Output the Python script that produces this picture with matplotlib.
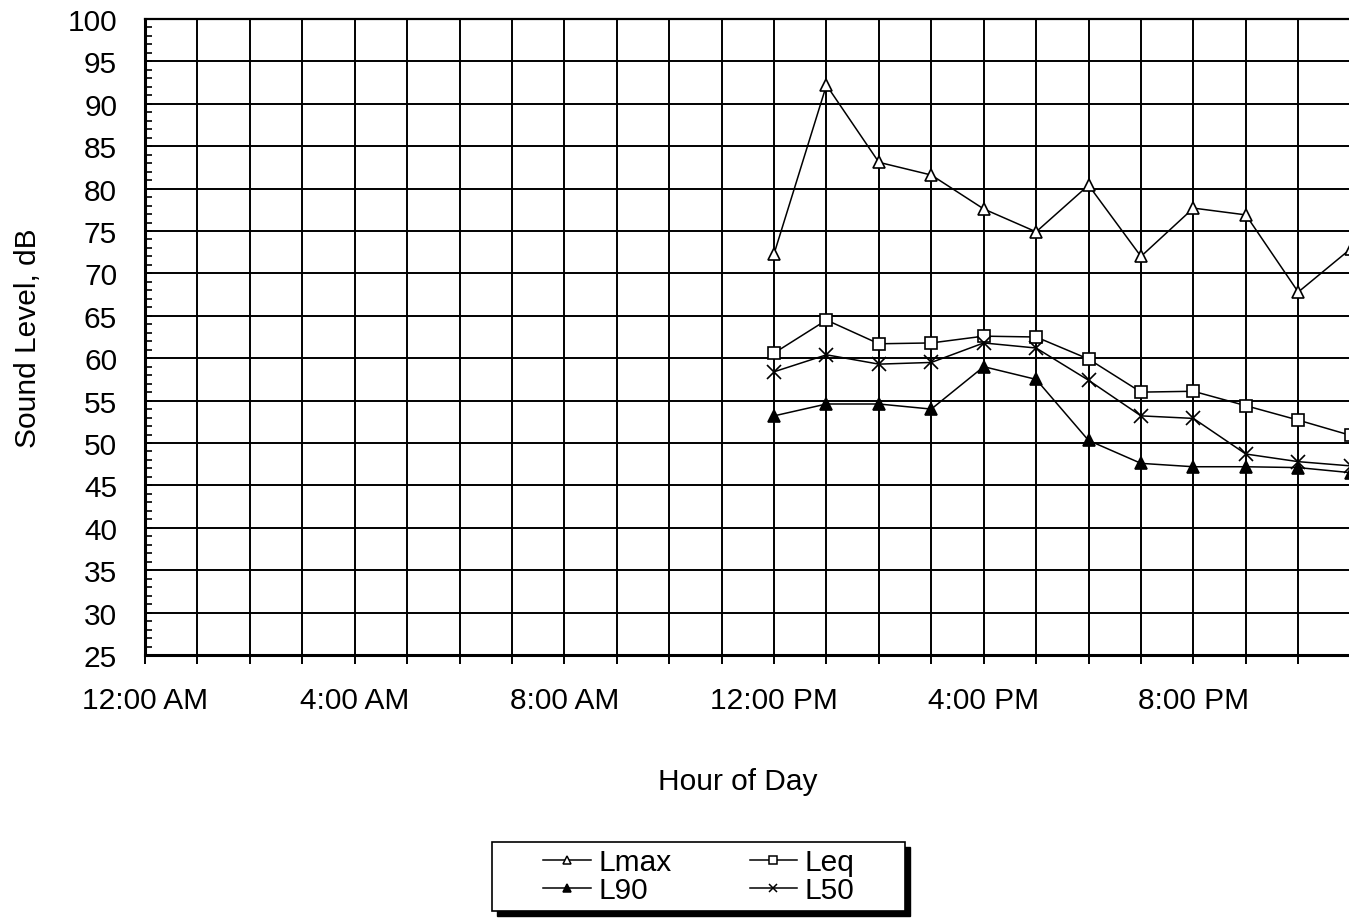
import matplotlib
matplotlib.use("Agg")
import matplotlib.pyplot as plt
from matplotlib.patches import Rectangle
from matplotlib.lines import Line2D
from matplotlib.ticker import MultipleLocator

plt.rcParams['font.family'] = ['Liberation Sans', 'DejaVu Sans']

# ---- data ----
hours = [12, 13, 14, 15, 16, 17, 18, 19, 20, 21, 22, 23]
lmax = [72.3, 92.2, 83.1, 81.6, 77.6, 74.9, 80.4, 72.0, 77.7, 76.9, 67.8, 72.9]
leq = [60.6, 64.5, 61.7, 61.8, 62.6, 62.5, 59.9, 56.0, 56.1, 54.4, 52.7, 50.9]
l50 = [58.4, 60.4, 59.3, 59.5, 61.8, 61.2, 57.4, 53.2, 52.9, 48.7, 47.8, 47.3]
l90 = [53.2, 54.6, 54.6, 54.0, 59.0, 57.5, 50.3, 47.6, 47.2, 47.2, 47.1, 46.5]
tick_hours = [0, 4, 8, 12, 16, 20]
tick_labels = ["12:00 AM", "4:00 AM", "8:00 AM", "12:00 PM", "4:00 PM", "8:00 PM"]
series_names = ["Lmax", "Leq", "L90", "L50"]

W, H = 1349, 920
fig = plt.figure(figsize=(W / 100, H / 100), dpi=100)

ax_left, ax_top, ax_bottom = 145, 20, 656
px_per_hour = 52.42
ax_w = 24 * px_per_hour
ax = fig.add_axes([ax_left / W, (H - ax_bottom) / H, ax_w / W, (ax_bottom - ax_top) / H])

FS = 21.5
lw = 1.1
ms = 9
h_lmax, = ax.plot(hours, lmax, color='black', lw=lw, marker='^', ms=ms, mfc='white', mec='black', mew=1.2, zorder=3)
h_leq, = ax.plot(hours, leq, color='black', lw=lw, marker='s', ms=ms, mfc='white', mec='black', mew=1.2, zorder=3)
h_l90, = ax.plot(hours, l90, color='black', lw=lw, marker='^', ms=ms, mfc='black', mec='black', mew=1.2, zorder=3)
h_l50, = ax.plot(hours, l50, color='black', lw=lw, marker='x', ms=ms + 1, mec='black', mew=1.2, zorder=3)

ax.set_xlim(0, 24)
ax.set_ylim(25, 100)

all_hours = list(range(0, 25))
ax.set_xticks(all_hours)
lab_map = dict(zip(tick_hours, tick_labels))
ax.set_xticklabels([lab_map.get(h, "") for h in all_hours])
ax.yaxis.set_major_locator(MultipleLocator(5))
ax.yaxis.set_minor_locator(MultipleLocator(1))

ax.grid(True, which='major', color='black', lw=1.4, zorder=1)
ax.set_axisbelow(True)

ax.tick_params(axis='x', which='major', direction='out', length=6.5, width=1.4, pad=16, labelsize=FS, colors='black')
ax.tick_params(axis='y', which='major', direction='in', length=5, width=1.4, pad=20, labelsize=FS)
ax.tick_params(axis='y', which='minor', direction='in', length=5, width=1.2)
ax.tick_params(right=False, top=False)

for s in ['left', 'bottom']:
    ax.spines[s].set_linewidth(2.2)
ax.spines['top'].set_linewidth(1.6)
ax.spines['right'].set_visible(False)

fig.text(28 / W, 1 - 338 / H, "Sound Level, dB", fontsize=FS, rotation=90, ha='center', va='center')
fig.text(738 / W, 1 - 782 / H, "Hour of Day", fontsize=FS, ha='center', va='center')

# legend
lx0, lx1, ly0, ly1 = 492, 905, 843, 912
fig.patches.append(Rectangle(((lx0 + 5) / W, 1 - (ly1 + 5) / H), (lx1 - lx0) / W, (ly1 - ly0) / H,
                             transform=fig.transFigure, facecolor='black', edgecolor='black', zorder=3))
fig.patches.append(Rectangle((lx0 / W, 1 - ly1 / H), (lx1 - lx0) / W, (ly1 - ly0) / H,
                             transform=fig.transFigure, facecolor='white', edgecolor='black', lw=1.2, zorder=4))

def lh(marker, mfc):
    return Line2D([], [], color='black', lw=lw, marker=marker, ms=6, mfc=mfc, mec='black', mew=1.1)

handles = [lh('^', 'white'), lh('^', 'black'), lh('s', 'white'), lh('x', 'none')]
labels = [series_names[0], series_names[2], series_names[1], series_names[3]]
leg = fig.legend(handles, labels, loc='center', bbox_to_anchor=(699 / W, 1 - 877 / H), ncol=2,
                 frameon=False, fontsize=FS, handlelength=1.6, handletextpad=0.25,
                 columnspacing=2.6, labelspacing=0.0, borderpad=0.2)
leg.set_zorder(5)

fig.savefig("out.png", dpi=100)
